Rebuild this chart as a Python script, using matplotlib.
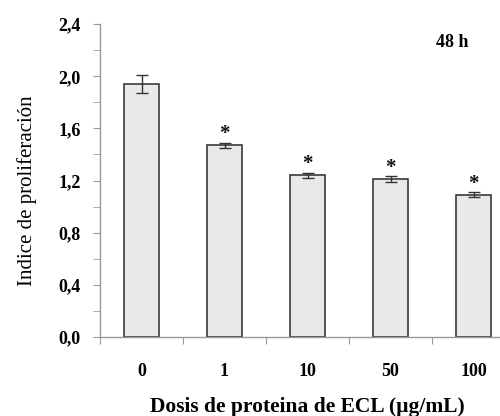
import matplotlib
matplotlib.use("Agg")
import matplotlib.pyplot as plt
import numpy as np

categories = ["0", "1", "10", "50", "100"]
values = [1.94, 1.47, 1.24, 1.21, 1.09]
errors = [0.07, 0.02, 0.02, 0.025, 0.02]
significant = [False, True, True, True, True]
yticks = [0.0, 0.4, 0.8, 1.2, 1.6, 2.0, 2.4]
ytick_labels = ["0,0", "0,4", "0,8", "1,2", "1,6", "2,0", "2,4"]

plt.rcParams['font.family'] = ['Liberation Serif', 'DejaVu Serif']

fig = plt.figure(figsize=(5.0, 4.16), dpi=100)
ax = fig.add_axes([0.2, 0.19, 0.83, 0.752])

x = np.arange(len(categories))
ax.bar(x, values, width=0.41, color="#e9e9e9", edgecolor="#3a3a3a", linewidth=1.2, zorder=2)
ax.errorbar(x, values, yerr=errors, fmt="none", ecolor="#333333", elinewidth=1.0,
            capsize=4, capthick=1.0, zorder=3)
for xi, v, e, s in zip(x, values, errors, significant):
    if s:
        ax.text(xi, v + e + 0.065, "*", ha="center", va="center", fontsize=15,
                fontweight="bold", color="#111111")

ax.set_xlim(-0.5, len(categories) - 0.5)
ax.set_ylim(0, 2.4)
ax.set_yticks(yticks)
ax.set_yticklabels(ytick_labels, fontsize=13, fontweight="bold")
ax.set_yticks(np.arange(0.2, 2.4, 0.4), minor=True)

ax.set_xticks(np.arange(-0.5, len(categories), 1.0))
ax.set_xticklabels([])
ax.set_xticks(x, minor=True)
ax.set_xticklabels(categories, minor=True, fontsize=13, fontweight="bold")
ax.tick_params(axis="x", which="minor", length=0, pad=19)
ax.tick_params(axis="x", which="major", length=5, color="#999999", direction="out")
ax.tick_params(axis="y", which="both", length=5, color="#999999", direction="out", pad=9)

for side in ["top", "right"]:
    ax.spines[side].set_visible(False)
for side in ["left", "bottom"]:
    ax.spines[side].set_color("#999999")
    ax.spines[side].set_linewidth(1.0)

fig.text(0.054, 0.541, "Indice de proliferación", rotation=90, ha="center", va="center",
         fontsize=15)
fig.text(0.614, 0.022, "Dosis de proteina de ECL (µg/mL)", ha="center", va="center",
         fontsize=15.5, fontweight="bold")
fig.text(0.904, 0.899, "48 h", ha="center", va="center", fontsize=13, fontweight="bold")

fig.savefig("out.png", dpi=100)
